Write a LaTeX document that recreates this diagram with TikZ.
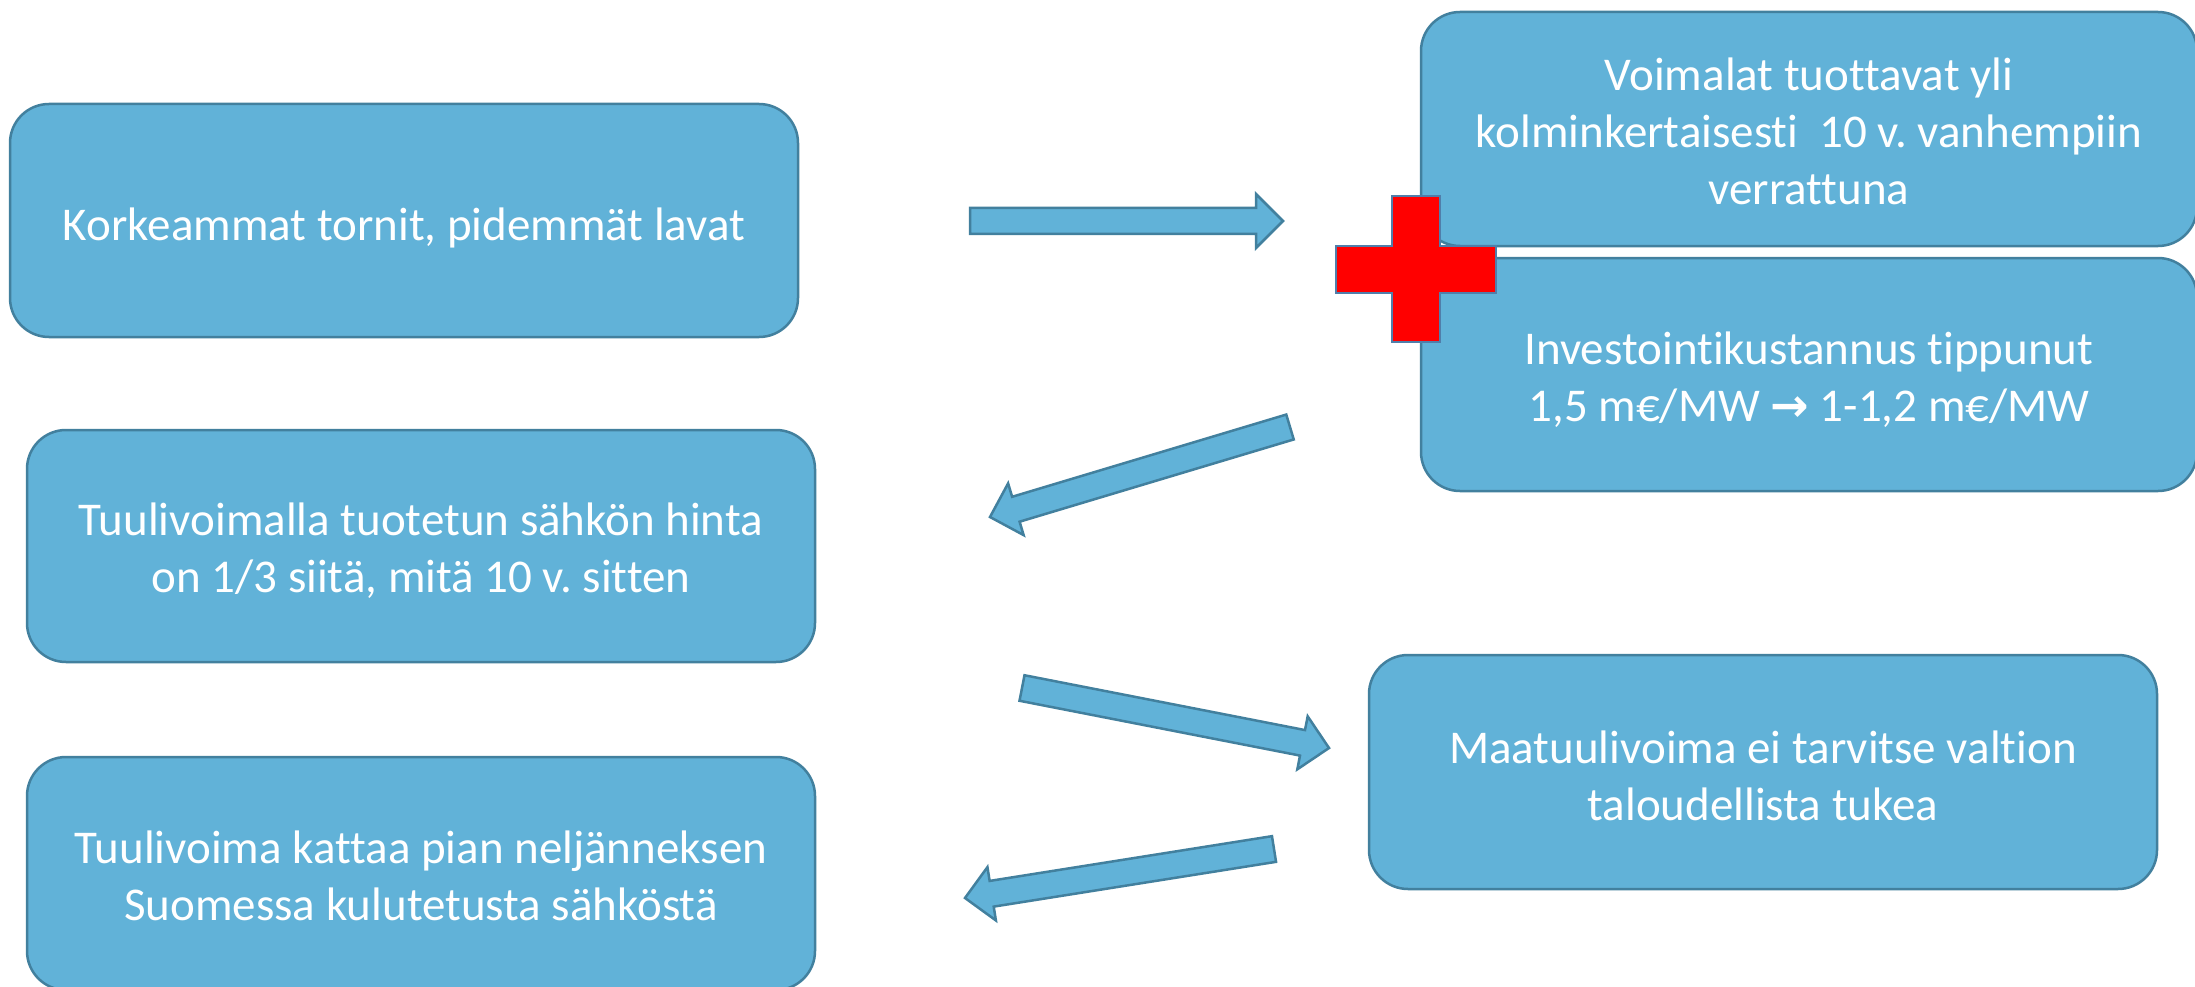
\documentclass[tikz,border=0pt]{standalone}
\usepackage{fontspec}
\setmainfont{Carlito}[Ligatures=NoCommon]
\newfontfamily\arrowfont{DejaVu Sans}
\usetikzlibrary{calc}
\definecolor{boxfill}{RGB}{97,178,216}
\definecolor{boxline}{RGB}{66,128,158}
\definecolor{crossline}{RGB}{80,126,170}
\tikzset{
  card/.style={draw=boxline, fill=boxfill, line width=2.5pt, rounded corners=39pt, inner sep=0pt},
  cardtext/.style={text=white, align=center, inner sep=0pt,
    font=\fontsize{47}{57}\selectfont\frenchspacing},
  blockarr/.style={draw=boxline, fill=boxfill, line width=2.5pt, line join=miter},
}
\newcommand\blockarrow[2]{%
  \coordinate (n#1) at ($(#2)!27pt!(#1)$);
  \path[blockarr]
    ($(#1)!13pt!90:(#2)$) -- ($(n#1)!13pt!-90:(#1)$) -- ($(n#1)!27pt!-90:(#1)$)
    -- (#2) -- ($(n#1)!27pt!90:(#1)$) -- ($(n#1)!13pt!90:(#1)$)
    -- ($(#1)!13pt!-90:(#2)$) -- cycle;
}
\begin{document}
\begin{tikzpicture}[x=1pt,y=-1pt]
\useasboundingbox (0,0) rectangle (2195,987);
\fill[white] (0,0) rectangle (2195,987);

\node[card, minimum width=788pt, minimum height=233pt] (A) at (404,220.5) {};
\node[cardtext] (At) at ([yshift=-7pt]A.center) {Korkeammat tornit, pidemmät lavat};
\node[card, minimum width=788pt, minimum height=232pt] (B) at (421,546) {};
\node[cardtext] (Bt) at ([yshift=-5pt]B.center) {Tuulivoimalla tuotetun sähkön hinta\\on 1/3 siitä, mitä 10 v. sitten};
\node[card, minimum width=788pt, minimum height=233pt] (C) at (421,873.5) {};
\node[cardtext] (Ct) at ([yshift=-2pt]C.center) {Tuulivoima kattaa pian neljänneksen\\Suomessa kulutetusta sähköstä};
\node[card, minimum width=776pt, minimum height=234pt] (D) at (1809,129) {};
\node[cardtext] (Dt) at ([yshift=-2pt]D.center) {Voimalat tuottavat yli\\kolminkertaisesti\ \ 10 v. vanhempiin\\verrattuna};
\node[card, minimum width=776pt, minimum height=233pt] (E) at (1809,374.5) {};
\node[cardtext] (Et) at ([yshift=-5pt]E.center) {Investointikustannus tippunut\\1,5 m€/MW {\arrowfont\bfseries\fontsize{46}{57}\selectfont →} 1-1,2 m€/MW};
\node[card, minimum width=788pt, minimum height=234pt] (F) at (1763,772) {};
\node[cardtext] (Ft) at ([yshift=-4pt]F.center) {Maatuulivoima ei tarvitse valtion\\taloudellista tukea};

% red cross
\path[fill=red, draw=crossline, line width=1.5pt]
  (1392,196) -- (1440,196) -- (1440,246) -- (1496,246) -- (1496,293)
  -- (1440,293) -- (1440,342) -- (1392,342) -- (1392,293) -- (1336,293)
  -- (1336,246) -- (1392,246) -- cycle;

% block arrows
\coordinate (t1) at (970,221);  \coordinate (h1) at (1283,221);
\coordinate (t2) at (1290,427); \coordinate (h2) at (990,517);
\coordinate (t3) at (1022,688); \coordinate (h3) at (1329,748);
\coordinate (t4) at (1274,849); \coordinate (h4) at (965,898);
\blockarrow{t1}{h1}
\blockarrow{t2}{h2}
\blockarrow{t3}{h3}
\blockarrow{t4}{h4}
\end{tikzpicture}
\end{document}
